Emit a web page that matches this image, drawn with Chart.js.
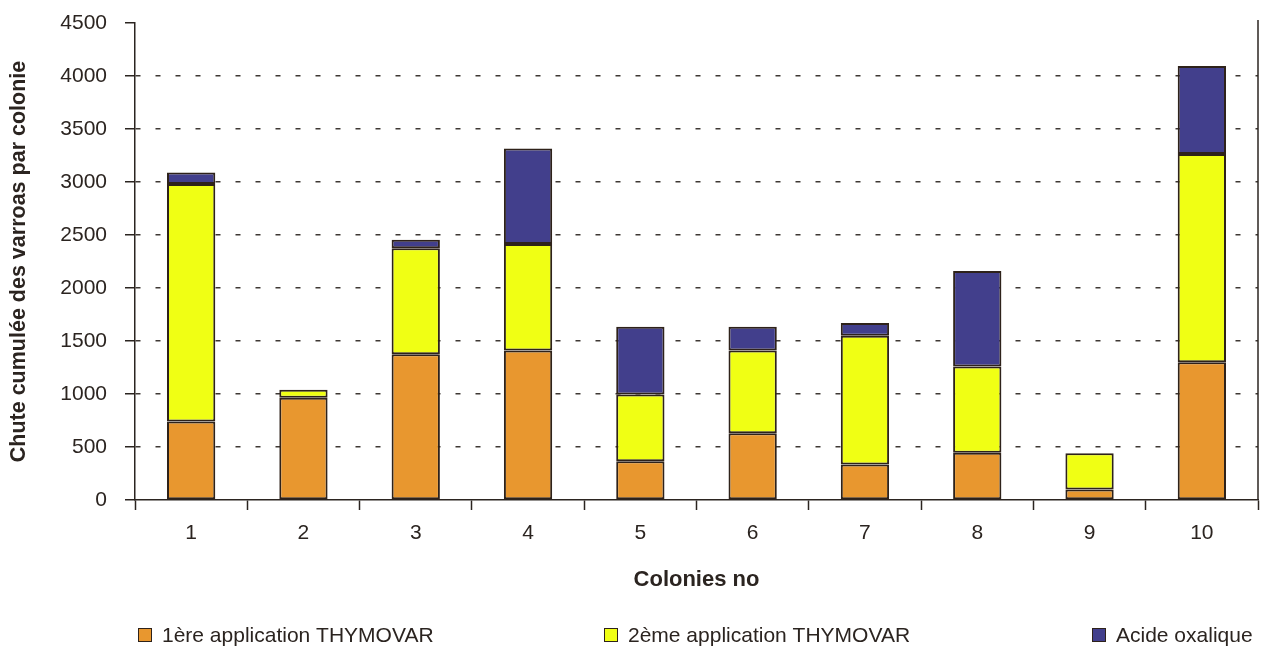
<!DOCTYPE html>
<html lang="fr">
<head>
<meta charset="utf-8">
<title>Chute cumulée des varroas par colonie</title>
<script src="https://cdn.jsdelivr.net/npm/chart.js@4.4.1/dist/chart.umd.min.js"></script>
<style>
  html, body { margin: 0; padding: 0; background: #fff; }
  #wrap { position: relative; width: 1266px; height: 651px; }
</style>
</head>
<body>
<div id="wrap"><canvas id="chart"></canvas></div>
<script>
  // ---------- Data ----------
  const colonies = ['1', '2', '3', '4', '5', '6', '7', '8', '9', '10'];
  const thymovar1 = [740, 965, 1375, 1410, 365, 630, 335, 445, 100, 1300];
  const thymovar2 = [2240, 75, 1000, 1005, 630, 780, 1215, 815, 340, 1965];
  const oxalique = [110, 0, 80, 900, 640, 225, 120, 900, 0, 830];
  const seriesNames = ['1ère application THYMOVAR', '2ème application THYMOVAR', 'Acide oxalique'];

  const FONT = '"Liberation Sans", Arial, Helvetica, sans-serif';
  const INK = '#2b2420';
  const EDGE = '#2e221a';
  const COLORS = ['#E8972F', '#F0FF14', '#423F8C'];

  // right frame line of the plot area
  const frameRight = {
    id: 'frameRight',
    afterDraw(chart) {
      const { ctx, chartArea: a } = chart;
      ctx.save();
      ctx.strokeStyle = INK;
      ctx.lineWidth = 1.5;
      ctx.beginPath();
      ctx.moveTo(a.right, a.top - 3);
      ctx.lineTo(a.right, a.bottom);
      ctx.stroke();
      ctx.restore();
    }
  };

  // legend spread over the bottom line, like the original
  const spreadLegend = {
    id: 'spreadLegend',
    afterDraw(chart) {
      const { ctx } = chart;
      const xs = [138, 604, 1092];
      const y = 635;
      ctx.save();
      ctx.font = '21px ' + FONT;
      ctx.textBaseline = 'middle';
      chart.data.datasets.forEach((ds, i) => {
        ctx.fillStyle = ds.backgroundColor;
        ctx.fillRect(xs[i], y - 7, 14, 14);
        ctx.strokeStyle = EDGE;
        ctx.lineWidth = 1;
        ctx.strokeRect(xs[i] + 0.5, y - 6.5, 13, 13);
        ctx.fillStyle = INK;
        ctx.fillText(ds.label, xs[i] + 24, y + 1);
      });
      ctx.restore();
    }
  };

  const mkSet = (label, data, i) => ({
    label,
    data,
    backgroundColor: COLORS[i],
    borderColor: EDGE,
    borderWidth: 2,
    borderSkipped: false,
    categoryPercentage: 1,
    barPercentage: 0.43
  });

  new Chart(document.getElementById('chart'), {
    type: 'bar',
    data: {
      labels: colonies,
      datasets: [
        mkSet(seriesNames[0], thymovar1, 0),
        mkSet(seriesNames[1], thymovar2, 1),
        mkSet(seriesNames[2], oxalique, 2)
      ]
    },
    plugins: [frameRight, spreadLegend],
    options: {
      responsive: true,
      maintainAspectRatio: false,
      animation: false,
      layout: { padding: { top: 23, right: 8, left: 0, bottom: 0 } },
      plugins: {
        legend: { display: false },
        tooltip: { enabled: false }
      },
      scales: {
        x: {
          stacked: true,
          afterFit: (s) => { s.height = 151; },
          grid: {
            offset: true,
            drawOnChartArea: false,
            drawTicks: true,
            tickLength: 10,
            tickColor: INK,
            tickWidth: 1.5
          },
          border: { color: INK, width: 1.5 },
          ticks: { color: INK, font: { family: FONT, size: 21 }, padding: 11 },
          title: {
            display: true,
            text: 'Colonies no',
            color: INK,
            font: { family: FONT, size: 22, weight: 'bold' },
            padding: { top: 0, bottom: 58 }
          }
        },
        y: {
          stacked: true,
          min: 0,
          max: 4500,
          afterFit: (s) => { s.width = 135; },
          grid: {
            drawTicks: true,
            tickLength: 10,
            tickColor: INK,
            tickWidth: 1.5,
            lineWidth: 1.5,
            color: (c) => (c.tick && (c.tick.value === 0 || c.tick.value === 4500)) ? 'rgba(0,0,0,0)' : '#3e3834'
          },
          border: { color: INK, width: 1.5, dash: [5, 15] },
          ticks: {
            stepSize: 500,
            color: INK,
            // small lineHeight keeps the top label from pushing the plot down
            font: { family: FONT, size: 21, lineHeight: 0.4 },
            padding: 18,
            callback: (v) => String(v)
          },
          title: {
            display: true,
            text: 'Chute cumulée des varroas par colonie',
            color: INK,
            font: { family: FONT, size: 21.5, weight: 'bold' },
            padding: { top: 6, bottom: 0 }
          }
        }
      }
    }
  });
</script>
</body>
</html>
